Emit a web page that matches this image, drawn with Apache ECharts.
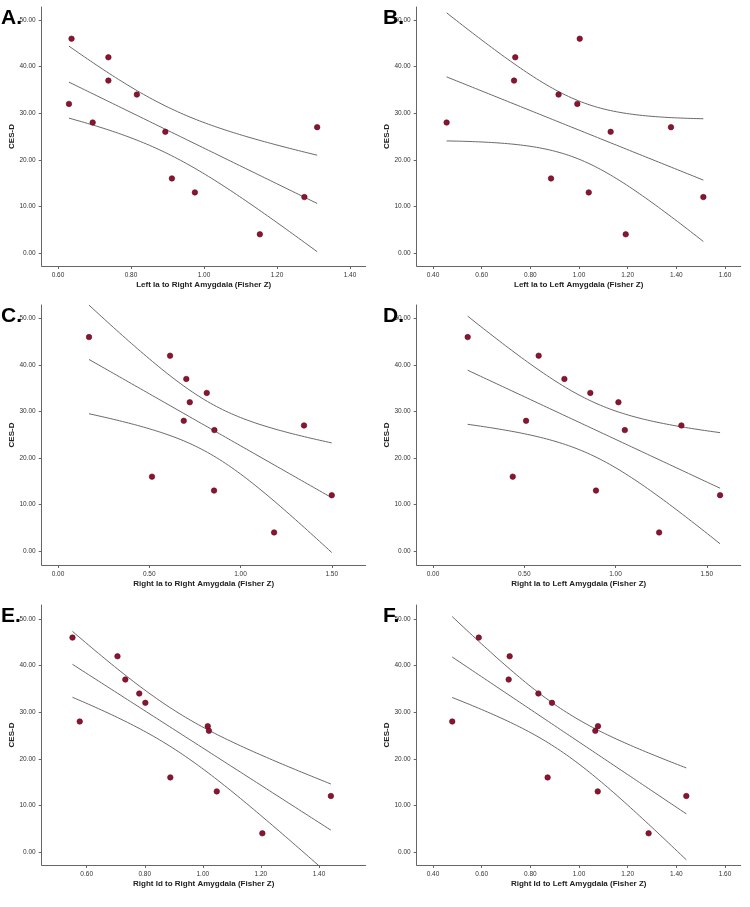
<!DOCTYPE html>
<html>
<head>
<meta charset="utf-8">
<script src="https://cdn.jsdelivr.net/npm/echarts@6/dist/echarts.min.js"></script>
<style>
html,body{margin:0;padding:0;background:#fff;}
#chart{width:750px;height:907px;}
</style>
</head>
<body>
<div id="chart"></div>
<script>
// ---- data ----
var cesd = [46, 42, 37, 34, 32, 28, 26, 27, 16, 13, 12, 4];

var xA = [0.637, 0.738, 0.738, 0.816, 0.630, 0.695, 0.894, 1.310, 0.912, 0.975, 1.275, 1.153];
var xB = [1.003, 0.738, 0.733, 0.916, 0.993, 0.456, 1.130, 1.378, 0.885, 1.040, 1.511, 1.192];
var xC = [0.170, 0.614, 0.703, 0.815, 0.722, 0.689, 0.857, 1.348, 0.515, 0.855, 1.500, 1.184];
var xD = [0.190, 0.579, 0.720, 0.862, 1.016, 0.510, 1.051, 1.361, 0.437, 0.893, 1.573, 1.239];
var xE = [0.551, 0.706, 0.733, 0.781, 0.802, 0.576, 1.021, 1.017, 0.888, 1.048, 1.441, 1.205];
var xF = [0.588, 0.715, 0.711, 0.833, 0.889, 0.479, 1.067, 1.078, 0.871, 1.077, 1.441, 1.286];

var panelLetters = ['A.', 'B.', 'C.', 'D.', 'E.', 'F.'];
var xTitles = [
  'Left Ia to Right Amygdala (Fisher Z)',
  'Left Ia to Left Amygdala (Fisher Z)',
  'Right Ia to Right Amygdala (Fisher Z)',
  'Right Ia to Left Amygdala (Fisher Z)',
  'Right Id to Right Amygdala (Fisher Z)',
  'Right Id to Left Amygdala (Fisher Z)'
];
var yTitle = 'CES-D';

var xTicksA = [0.6, 0.8, 1.0, 1.2, 1.4];
var xTicksB = [0.4, 0.6, 0.8, 1.0, 1.2, 1.4, 1.6];
var xTicksC = [0, 0.5, 1.0, 1.5];
var xTicksD = [0, 0.5, 1.0, 1.5];
var xTicksE = [0.6, 0.8, 1.0, 1.2, 1.4];
var xTicksF = [0.4, 0.6, 0.8, 1.0, 1.2, 1.4, 1.6];
var yTicks = [0, 10, 20, 30, 40, 50];

// ---- layout ----
var xsets = [xA, xB, xC, xD, xE, xF];
var xticks = [xTicksA, xTicksB, xTicksC, xTicksD, xTicksE, xTicksF];
var xRanges = [[0.5553, 1.443], [0.333, 1.6645], [-0.0893, 1.686], [-0.0893, 1.686], [0.445, 1.561], [0.333, 1.6645]];
var colLeft = [41.7, 416.7];
var rowTop = [7, 305, 605];
var rowBottom = [266, 565, 865];
var yMins = [-2.8, -3.0, -2.8];
var yMaxs = [52.8, 52.9, 53.0];
var gridW = 324;
var T = 1.812; // t(0.95, df=10): 90% confidence band for the mean

function regress(xs, ys) {
  var n = xs.length, mx = 0, my = 0;
  for (var i = 0; i < n; i++) { mx += xs[i]; my += ys[i]; }
  mx /= n; my /= n;
  var sxx = 0, sxy = 0;
  for (i = 0; i < n; i++) { sxx += (xs[i]-mx)*(xs[i]-mx); sxy += (xs[i]-mx)*(ys[i]-my); }
  var b = sxy / sxx, a = my - b * mx, sse = 0;
  for (i = 0; i < n; i++) { var r = ys[i] - (a + b*xs[i]); sse += r*r; }
  var s = Math.sqrt(sse / (n - 2));
  var lo = Math.min.apply(null, xs), hi = Math.max.apply(null, xs);
  var fit = [], up = [], dn = [];
  var steps = 80;
  for (i = 0; i <= steps; i++) {
    var x = lo + (hi - lo) * i / steps;
    var yh = a + b * x;
    var se = s * Math.sqrt(1/n + (x-mx)*(x-mx)/sxx);
    fit.push([x, yh]); up.push([x, yh + T*se]); dn.push([x, yh - T*se]);
  }
  return {fit: fit, up: up, dn: dn};
}

var grids = [], xAxes = [], yAxes = [], series = [], titles = [];
var labelFont = 'Liberation Sans, Arial, sans-serif';
for (var p = 0; p < 6; p++) {
  var col = p % 2, row = Math.floor(p / 2);
  grids.push({left: colLeft[col], top: rowTop[row], width: gridW, height: rowBottom[row] - rowTop[row], containLabel: false});
  xAxes.push({
    type: 'value', gridIndex: p, min: xRanges[p][0], max: xRanges[p][1],
    name: xTitles[p], nameLocation: 'middle', nameGap: 15,
    nameTextStyle: {fontFamily: labelFont, fontWeight: 'bold', fontSize: 8, color: '#222'},
    splitLine: {show: false},
    axisLine: {show: true, onZero: false, lineStyle: {color: '#666', width: 1}},
    axisTick: {show: true, length: 3, customValues: xticks[p], lineStyle: {color: '#666'}},
    axisLabel: {customValues: xticks[p], margin: 6, fontSize: 6.5, color: '#333', fontFamily: labelFont,
      formatter: function (v) { return Number(v).toFixed(2); }}
  });
  yAxes.push({
    type: 'value', gridIndex: p, min: yMins[row], max: yMaxs[row],
    name: yTitle, nameLocation: 'middle', nameGap: 24, nameRotate: 90,
    nameTextStyle: {fontFamily: labelFont, fontWeight: 'bold', fontSize: 8, color: '#222'},
    splitLine: {show: false},
    axisLine: {show: true, onZero: false, lineStyle: {color: '#666', width: 1}},
    axisTick: {show: true, length: 3, customValues: yTicks, lineStyle: {color: '#666'}},
    axisLabel: {customValues: yTicks, margin: 6, fontSize: 6.5, color: '#333', fontFamily: labelFont,
      formatter: function (v) { return Number(v).toFixed(2); }}
  });
  var pts = xsets[p].map(function (x, i) { return [x, cesd[i]]; });
  var reg = regress(xsets[p], cesd);
  ['fit', 'up', 'dn'].forEach(function (k) {
    series.push({type: 'line', xAxisIndex: p, yAxisIndex: p, data: reg[k], symbol: 'none', silent: true,
      lineStyle: {color: '#6a6a6a', width: 1}, z: 2});
  });
  series.push({type: 'scatter', xAxisIndex: p, yAxisIndex: p, data: pts, symbolSize: 5.5,
    itemStyle: {color: '#8c1430', borderColor: '#5c0c20', borderWidth: 0.6, opacity: 1}, z: 3});
  titles.push({text: panelLetters[p], left: col * 375 + (col ? 8 : 1), top: rowTop[row] + 1,
    padding: 0, textStyle: {fontFamily: labelFont, fontWeight: 'bold', fontSize: 21, color: '#000'}});
}

var chart = echarts.init(document.getElementById('chart'), null, {renderer: 'canvas'});
chart.setOption({
  animation: false,
  backgroundColor: '#fff',
  title: titles,
  grid: grids,
  xAxis: xAxes,
  yAxis: yAxes,
  series: series
});
</script>
</body>
</html>
